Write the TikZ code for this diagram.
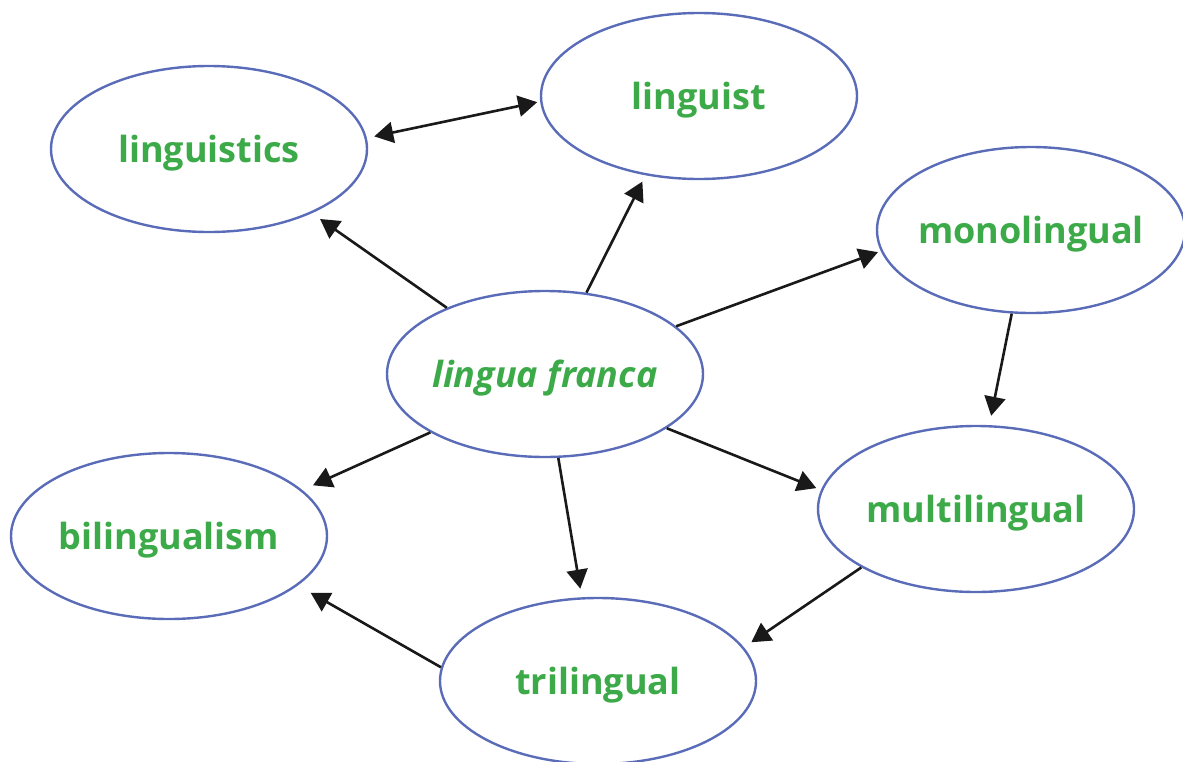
\documentclass[tikz,border=0pt]{standalone}
\usepackage{fontspec}
\setmainfont{Open Sans}
\usetikzlibrary{shapes.geometric,arrows.meta}
\definecolor{ellblue}{HTML}{5A6CB8}
\definecolor{txtgreen}{HTML}{3DAA49}
\newcommand{\bubtext}[1]{\makebox[0pt]{#1}}
\begin{document}
\begin{tikzpicture}[x=1pt,y=-1pt,
  bubble/.style={ellipse,draw=ellblue,line width=2.4pt,inner sep=0pt,
    minimum width=316pt,minimum height=166pt,text=txtgreen,
    text height=26pt,text depth=0pt,
    font=\fontsize{36}{40}\selectfont\bfseries},
  arr/.style={-{Triangle[length=19pt,width=21pt]},line width=2.6pt,color=black!90},
  darr/.style={{Triangle[length=19pt,width=21pt]}-{Triangle[length=19pt,width=21pt]},line width=2.6pt,color=black!90}]
\useasboundingbox (0,0) rectangle (1183,761);
\node[bubble] (lis) at (209,149) {\bubtext{linguistics}};
\node[bubble] (lin) at (699,96) {\bubtext{linguist}};
\node[bubble,minimum width=308pt] (mono) at (1031,230) {\bubtext{monolingual}};
\node[bubble] (lf) at (545,374) {\bubtext{\itshape lingua franca}};
\node[bubble] (bil) at (169,536) {\bubtext{bilingualism}};
\node[bubble] (mul) at (976,509) {\bubtext{multilingual}};
\node[bubble] (tri) at (598,681) {\bubtext{trilingual}};
\draw[arr,shorten >=10pt] (lf.146.7) -- (lis.-32.3);
\draw[arr,shorten >=7pt] (lf.63.4) -- (lin.-124.2);
\draw[arr,shorten >=3pt] (lf.20.2) -- (mono.-172.2);
\draw[arr,shorten >=9.5pt] (mono.-103) -- (mul.81.3);
\draw[arr,shorten >=5pt] (lf.-24.3) -- (mul.173.6);
\draw[arr,shorten >=11.6pt] (lf.-153.6) -- (bil.19.9);
\draw[arr,shorten >=8.7pt] (lf.-81.8) -- (tri.101.8);
\draw[arr,shorten >=9pt] (mul.-153.6) -- (tri.13.2);
\draw[arr,shorten >=14.7pt] (tri.175.3) -- (bil.-21.9);
\draw[darr,shorten <=7.6pt,shorten >=3pt] (lis.4.9) -- (lin.-178.2);
\end{tikzpicture}
\end{document}
